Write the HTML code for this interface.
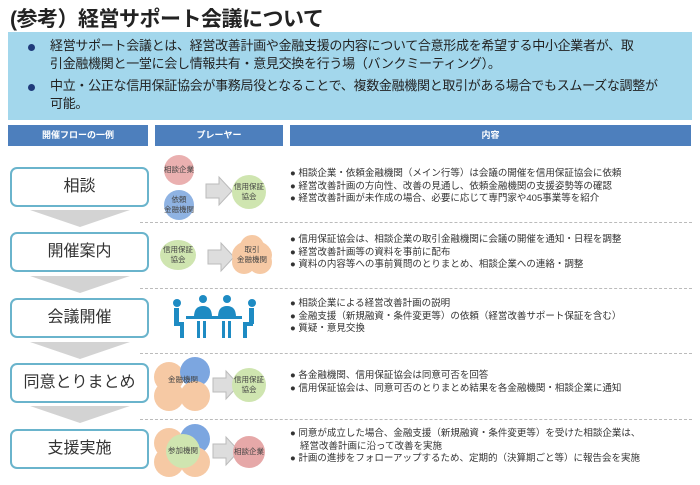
<!DOCTYPE html>
<html><head><meta charset="utf-8"><style>
body{margin:0;width:700px;height:485px;background:#fff;position:relative;overflow:hidden;font-family:"Liberation Sans","Noto Sans CJK JP",sans-serif;}
.a{position:absolute;}
.title{left:10px;top:3px;font-size:21px;font-weight:bold;color:#222;letter-spacing:-0.5px}
.blue{left:8px;top:32px;width:684px;height:88px;background:#a3d7ec}
.blue p{position:absolute;left:42px;margin:0;font-size:13px;line-height:18px;color:#222;width:622px;letter-spacing:-0.3px}
.dot{position:absolute;left:20px;width:7px;height:7px;border-radius:50%;background:#1f3a7a}
.hd{top:125px;height:21px;background:#4d7fbd;color:#fff;font-size:9px;font-weight:bold;text-align:center;line-height:21px}
.box{left:10px;width:135px;height:36px;border:2px solid #6ab4cc;border-radius:7px;text-align:center;line-height:36px;font-size:16px;color:#333;background:#fff}
.tri{left:30px;width:0;height:0;border-left:50px solid transparent;border-right:50px solid transparent;border-top:17px solid #d3d3d3}
.sep{left:140px;width:552px;border-top:1px dashed #bbb}
.txt{left:290px;font-size:9.5px;line-height:12.5px;color:#333;width:390px}
.txt div{padding-left:10px;text-indent:-10px}
.c{position:absolute;border-radius:50%;text-align:center;font-size:7.5px;color:#444;display:flex;align-items:center;justify-content:center;line-height:10px}
</style></head><body>
<div class="a title">(参考）経営サポート会議について</div>
<div class="a blue">
<span class="dot" style="top:12px"></span><p style="top:5px">経営サポート会議とは、経営改善計画や金融支援の内容について合意形成を希望する中小企業者が、取<br>引金融機関と一堂に会し情報共有・意見交換を行う場（バンクミーティング）。</p>
<span class="dot" style="top:52px"></span><p style="top:45px">中立・公正な信用保証協会が事務局役となることで、複数金融機関と取引がある場合でもスムーズな調整が<br>可能。</p>
</div>
<div class="a hd" style="left:8px;width:140px">開催フローの一例</div>
<div class="a hd" style="left:155px;width:128px">プレーヤー</div>
<div class="a hd" style="left:290px;width:401px">内容</div>

<div class="a box" style="top:167px">相談</div>
<div class="a tri" style="top:210px"></div>
<div class="a box" style="top:232px">開催案内</div>
<div class="a tri" style="top:276px"></div>
<div class="a box" style="top:298px">会議開催</div>
<div class="a tri" style="top:342px"></div>
<div class="a box" style="top:363px">同意とりまとめ</div>
<div class="a tri" style="top:406px"></div>
<div class="a box" style="top:429px">支援実施</div>

<div class="a sep" style="top:222px"></div>
<div class="a sep" style="top:288px"></div>
<div class="a sep" style="top:353px"></div>
<div class="a sep" style="top:419px"></div>

<svg class="a" style="left:0;top:0" width="700" height="485">
<defs><g id="ar"><polygon points="0,7 13,7 13,0 26,14 13,28 13,21 0,21" fill="#ddd" stroke="#bbb" stroke-width="1"/></g></defs>
<use href="#ar" x="206" y="177"/>
<use href="#ar" x="208" y="243"/>
<use href="#ar" x="213" y="371"/>
<use href="#ar" x="213" y="437"/>
<g fill="#1e8bc3">
<circle cx="177" cy="303" r="4"/><rect x="174" y="308" width="5" height="16"/><rect x="174" y="322" width="10" height="4"/><rect x="180" y="324" width="4" height="14"/>
<circle cx="252" cy="303" r="4"/><rect x="249" y="308" width="5" height="16"/><rect x="243" y="322" width="10" height="4"/><rect x="243" y="324" width="4" height="14"/>
<circle cx="203" cy="299" r="4"/><path d="M194 317 Q194 306 203 306 Q212 306 212 317Z"/>
<circle cx="227" cy="299" r="4"/><path d="M218 317 Q218 306 227 306 Q236 306 236 317Z"/>
<rect x="186" y="316" width="56" height="3"/>
<rect x="197" y="321" width="3" height="17"/><rect x="203" y="321" width="3" height="17"/>
<rect x="222" y="321" width="3" height="17"/><rect x="228" y="321" width="3" height="17"/>
</g>
</svg>

<div class="c" style="left:164px;top:155px;width:30px;height:30px;background:#eab0b0">相談企業</div>
<div class="c" style="left:164px;top:190px;width:30px;height:30px;background:#8fb3e3">依頼<br>金融機関</div>
<div class="c" style="left:232px;top:175px;width:34px;height:34px;background:#cfe5b0">信用保証<br>協会</div>

<div class="c" style="left:160px;top:240px;width:36px;height:30px;background:#cfe5b0;border-radius:50%">信用保証<br>協会</div>
<div class="c" style="left:240px;top:235px;width:24px;height:24px;background:#f6c9a4"></div>
<div class="c" style="left:232px;top:250px;width:24px;height:24px;background:#f6c9a4"></div>
<div class="c" style="left:248px;top:250px;width:24px;height:24px;background:#f6c9a4"></div>
<div class="c" style="left:232px;top:240px;width:40px;height:30px;background:#f6c9a4">取引<br>金融機関</div>

<div class="c" style="left:154px;top:362px;width:30px;height:30px;background:#f6c9a4"></div>
<div class="c" style="left:180px;top:357px;width:30px;height:30px;background:#7ca6e0"></div>
<div class="c" style="left:154px;top:381px;width:30px;height:30px;background:#f6c9a4"></div>
<div class="c" style="left:180px;top:381px;width:30px;height:30px;background:#f6c9a4"></div>
<div class="c" style="left:158px;top:370px;width:50px;height:20px;background:transparent">金融機関</div>
<div class="c" style="left:232px;top:368px;width:34px;height:34px;background:#cfe5b0">信用保証<br>協会</div>

<div class="c" style="left:154px;top:428px;width:30px;height:30px;background:#f6c9a4"></div>
<div class="c" style="left:180px;top:424px;width:30px;height:30px;background:#7ca6e0"></div>
<div class="c" style="left:154px;top:447px;width:30px;height:30px;background:#f6c9a4"></div>
<div class="c" style="left:180px;top:447px;width:30px;height:30px;background:#f6c9a4"></div>
<div class="c" style="left:166px;top:434px;width:34px;height:34px;background:#cfe5b0">参加機関</div>
<div class="c" style="left:233px;top:436px;width:32px;height:32px;background:#e6a8a8">相談企業</div>

<div class="a txt" style="top:168px"><div>● 相談企業・依頼金融機関（メイン行等）は会議の開催を信用保証協会に依頼</div><div>● 経営改善計画の方向性、改善の見通し、依頼金融機関の支援姿勢等の確認</div><div>● 経営改善計画が未作成の場合、必要に応じて専門家や405事業等を紹介</div></div>
<div class="a txt" style="top:234px"><div>● 信用保証協会は、相談企業の取引金融機関に会議の開催を通知・日程を調整</div><div>● 経営改善計画等の資料を事前に配布</div><div>● 資料の内容等への事前質問のとりまとめ、相談企業への連絡・調整</div></div>
<div class="a txt" style="top:298px"><div>● 相談企業による経営改善計画の説明</div><div>● 金融支援（新規融資・条件変更等）の依頼（経営改善サポート保証を含む）</div><div>● 質疑・意見交換</div></div>
<div class="a txt" style="top:370px"><div>● 各金融機関、信用保証協会は同意可否を回答</div><div>● 信用保証協会は、同意可否のとりまとめ結果を各金融機関・相談企業に通知</div></div>
<div class="a txt" style="top:428px"><div>● 同意が成立した場合、金融支援（新規融資・条件変更等）を受けた相談企業は、<br>経営改善計画に沿って改善を実施</div><div>● 計画の進捗をフォローアップするため、定期的（決算期ごと等）に報告会を実施</div></div>
</body></html>
